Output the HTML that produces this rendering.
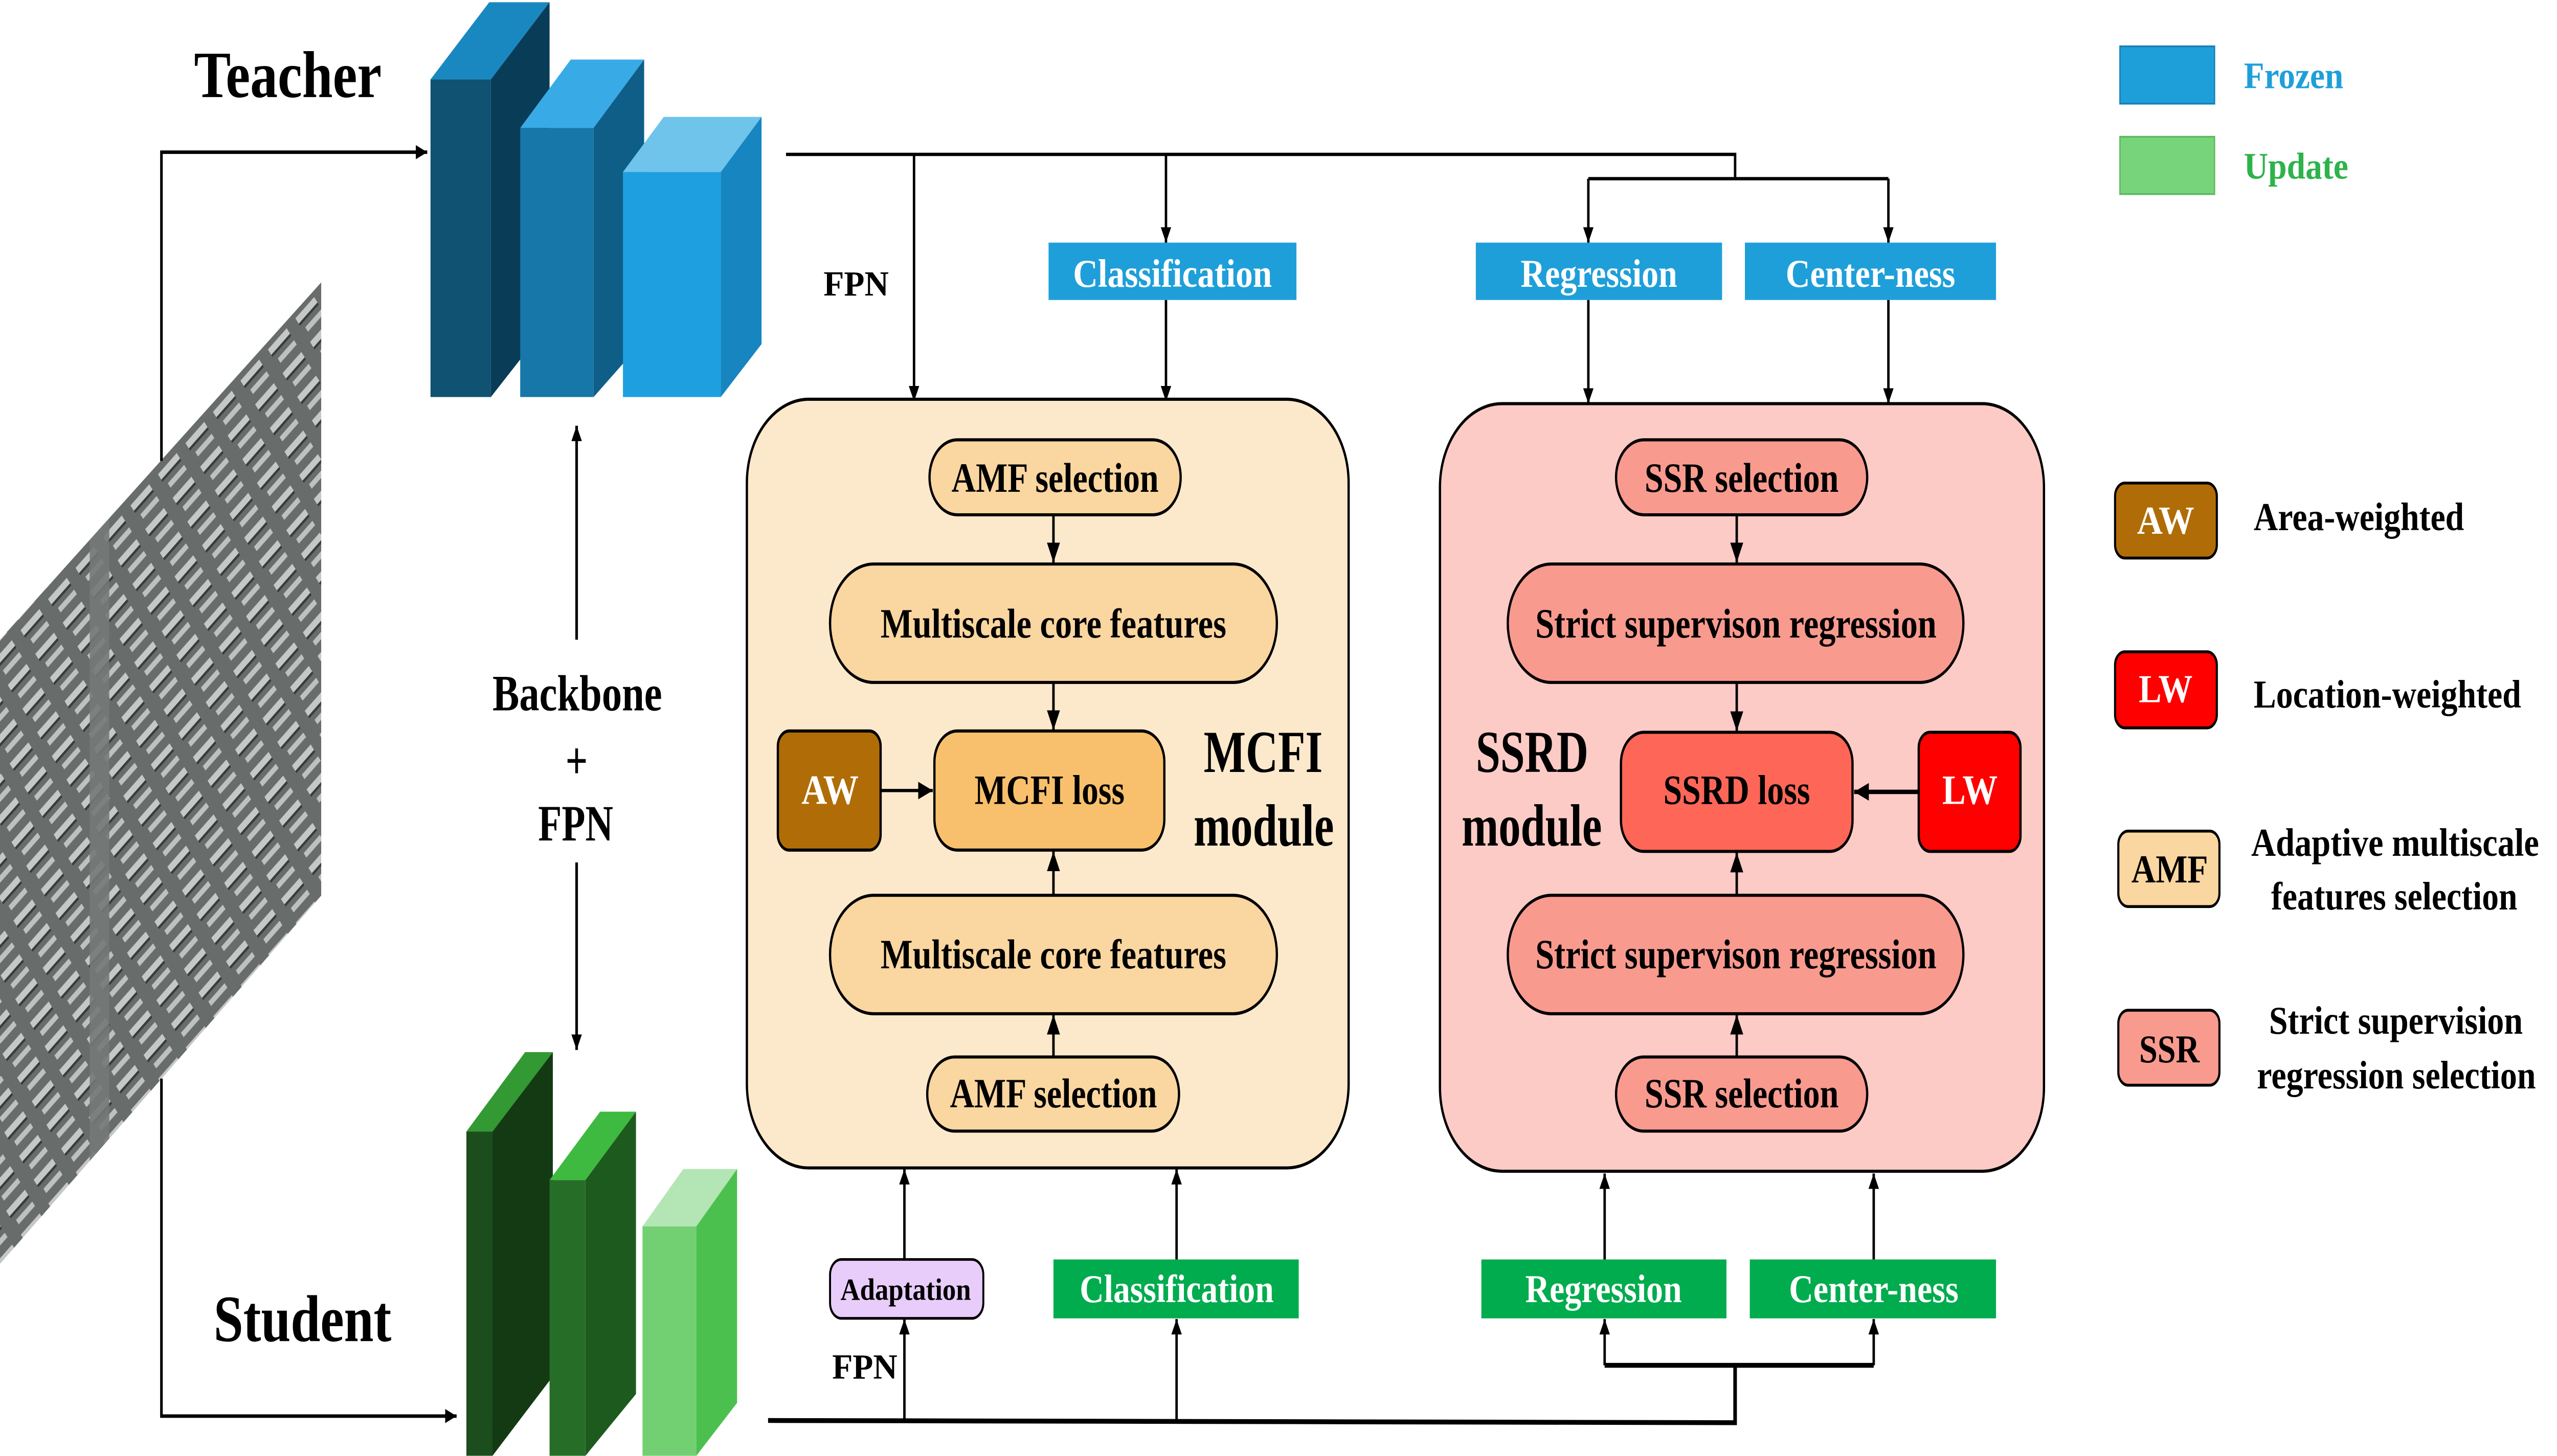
<!DOCTYPE html>
<html><head><meta charset="utf-8"><style>
html,body{margin:0;padding:0;background:#fff;width:100vw;height:100vh;overflow:hidden;}
svg{display:block;position:absolute;left:0;top:0;width:100vw;height:100vh;}
text{font-family:"Liberation Serif",serif;font-weight:bold;}
</style></head><body>
<svg viewBox="0 0 1568 660.1" preserveAspectRatio="none" xmlns="http://www.w3.org/2000/svg">
<defs>
<marker id="ar" markerWidth="8" markerHeight="8" refX="7" refY="4" orient="auto" markerUnits="userSpaceOnUse">
<path d="M0,0.8 L7,4 L0,7.2 Z" fill="#000"/></marker>
<marker id="ar2" markerWidth="10" markerHeight="10" refX="9" refY="5" orient="auto" markerUnits="userSpaceOnUse">
<path d="M0,1 L9,5 L0,9 Z" fill="#000"/></marker>
<pattern id="cars" width="22" height="14" patternUnits="userSpaceOnUse" patternTransform="rotate(-40)">
<rect x="0" y="0" width="22" height="14" fill="#6c726f"/>
<rect x="2" y="3" width="15" height="3.2" fill="#f2f2f2"/>
<rect x="2" y="6.2" width="15" height="1.2" fill="#2a2a2a"/>
<rect x="4" y="10" width="13" height="2.6" fill="#e8e8e8"/>
</pattern>
<clipPath id="imgclip"><polygon points="0,290 197,128 197,406 0,573"/></clipPath>
</defs>
<rect width="1568" height="660.1" fill="#fff"/>

<g clip-path="url(#imgclip)">
<rect x="0" y="120" width="200" height="460" fill="url(#cars)"/>
<rect x="55" y="120" width="12" height="460" fill="#7d8380" opacity="0.9"/>
<rect x="0" y="120" width="200" height="460" fill="#5f6562" opacity="0.3"/>
</g>

<g stroke="#000" stroke-width="1.6" fill="none">
<polyline points="99,209 99,69 262,69" marker-end="url(#ar)"/>
<polyline points="99,489 99,642 280,642" marker-end="url(#ar)"/>
<line x1="353.6" y1="290" x2="353.6" y2="193" marker-end="url(#ar)"/>
<line x1="353.6" y1="391" x2="353.6" y2="476" marker-end="url(#ar)"/>
</g>

<polygon points="264,36 301,36 337,1 300,1" fill="#1a88c0"/>
<polygon points="301,36 337,1 337,146 301,180" fill="#093c56"/>
<rect x="264" y="36" width="37" height="144" fill="#0f5272"/>
<polygon points="319,58 364,58 395,27 350,27" fill="#38abe6"/>
<polygon points="364,58 395,27 395,154 364,180" fill="#0f5e88"/>
<rect x="319" y="58" width="45" height="122" fill="#1677a8"/>
<polygon points="382,78 442,78 467,53 407,53" fill="#6fc4ec"/>
<polygon points="442,78 467,53 467,156 442,180" fill="#1785c0"/>
<rect x="382" y="78" width="60" height="102" fill="#1ea0e0"/>

<polygon points="286,513 302,513 339,477 322,477" fill="#339933"/>
<polygon points="302,513 339,477 339,624 302,660" fill="#143a14"/>
<rect x="286" y="513" width="16" height="147" fill="#1c4d1c"/>
<polygon points="337,535 359,535 390,504 368,504" fill="#3dba3f"/>
<polygon points="359,535 390,504 390,632 359,660" fill="#1d5a1e"/>
<rect x="337" y="535" width="22" height="125" fill="#266e28"/>
<polygon points="394,556 427,556 452,530 419,530" fill="#b3e6b4"/>
<polygon points="427,556 452,530 452,636 427,660" fill="#4cc04e"/>
<rect x="394" y="556" width="33" height="104" fill="#72d073"/>

<text x="119" y="44" font-size="30" textLength="115" lengthAdjust="spacingAndGlyphs">Teacher</text>
<text x="131" y="608" font-size="30" textLength="109" lengthAdjust="spacingAndGlyphs">Student</text>
<text x="302" y="322" font-size="23" textLength="104" lengthAdjust="spacingAndGlyphs">Backbone</text>
<text x="353.6" y="353" font-size="24" text-anchor="middle">+</text>
<text x="330" y="381" font-size="23" textLength="46" lengthAdjust="spacingAndGlyphs">FPN</text>

<g stroke="#000" stroke-width="1.5" fill="none">
<polyline points="482,70 1064,70 1064,81"/>
<line x1="974" y1="81" x2="1158" y2="81"/>
<line x1="974" y1="81" x2="974" y2="110" marker-end="url(#ar)"/>
<line x1="1158" y1="81" x2="1158" y2="110" marker-end="url(#ar)"/>
<line x1="560.5" y1="70" x2="560.5" y2="182" marker-end="url(#ar)"/>
<line x1="715" y1="70" x2="715" y2="110" marker-end="url(#ar)"/>
<line x1="715" y1="136" x2="715" y2="182" marker-end="url(#ar)"/>
<line x1="974" y1="136" x2="974" y2="183" marker-end="url(#ar)"/>
<line x1="1158" y1="136" x2="1158" y2="183" marker-end="url(#ar)"/>
</g>
<text x="505" y="134" font-size="16" textLength="40" lengthAdjust="spacingAndGlyphs">FPN</text>
<rect x="643" y="110" width="152" height="26" fill="#1f9fd9"/>
<text x="719" y="130" font-size="18" fill="#fff" text-anchor="middle" textLength="122" lengthAdjust="spacingAndGlyphs">Classification</text>
<rect x="905" y="110" width="151" height="26" fill="#1f9fd9"/>
<text x="980.5" y="130" font-size="18" fill="#fff" text-anchor="middle" textLength="96" lengthAdjust="spacingAndGlyphs">Regression</text>
<rect x="1070" y="110" width="154" height="26" fill="#1f9fd9"/>
<text x="1147" y="130" font-size="18" fill="#fff" text-anchor="middle" textLength="104" lengthAdjust="spacingAndGlyphs">Center-ness</text>

<rect x="458" y="181" width="369" height="348.5" rx="38" fill="#fce9cc" stroke="#000" stroke-width="1.4"/>
<g stroke="#000" stroke-width="1.4">
<rect x="570" y="199.4" width="154" height="34" rx="17" fill="#fad6a0"/>
<rect x="509" y="255.7" width="274" height="53.7" rx="26.8" fill="#fad6a0"/>
<rect x="573" y="331.4" width="141" height="54" rx="14" fill="#f8c06c"/>
<rect x="477" y="331.4" width="63" height="54" rx="7" fill="#b06d07"/>
<rect x="509" y="405.9" width="274" height="53.7" rx="26.8" fill="#fad6a0"/>
<rect x="568.6" y="479.2" width="154.4" height="33.6" rx="16.8" fill="#fad6a0"/>
</g>
<g stroke="#000" stroke-width="1.5">
<line x1="646" y1="233.4" x2="646" y2="255" marker-end="url(#ar2)"/>
<line x1="646" y1="309.4" x2="646" y2="331" marker-end="url(#ar2)"/>
<line x1="646" y1="405.9" x2="646" y2="386" marker-end="url(#ar2)"/>
<line x1="646" y1="479.2" x2="646" y2="460" marker-end="url(#ar2)"/>
<line x1="540" y1="358.4" x2="572" y2="358.4" marker-end="url(#ar2)"/>
</g>
<text x="647" y="223" font-size="19" text-anchor="middle" textLength="127" lengthAdjust="spacingAndGlyphs">AMF selection</text>
<text x="646" y="289" font-size="19" text-anchor="middle" textLength="212" lengthAdjust="spacingAndGlyphs">Multiscale core features</text>
<text x="643.6" y="364.5" font-size="19" text-anchor="middle" textLength="92" lengthAdjust="spacingAndGlyphs">MCFI loss</text>
<text x="509" y="364.5" font-size="19" fill="#fff" text-anchor="middle" textLength="35" lengthAdjust="spacingAndGlyphs">AW</text>
<text x="646" y="439" font-size="19" text-anchor="middle" textLength="212" lengthAdjust="spacingAndGlyphs">Multiscale core features</text>
<text x="646" y="502" font-size="19" text-anchor="middle" textLength="127" lengthAdjust="spacingAndGlyphs">AMF selection</text>
<text x="774.6" y="350" font-size="27" text-anchor="middle" textLength="73" lengthAdjust="spacingAndGlyphs">MCFI</text>
<text x="775" y="383.4" font-size="27" text-anchor="middle" textLength="86" lengthAdjust="spacingAndGlyphs">module</text>

<rect x="883" y="183" width="370.4" height="348" rx="38" fill="#fdcbc6" stroke="#000" stroke-width="1.4"/>
<g stroke="#000" stroke-width="1.4">
<rect x="991" y="199.4" width="154" height="34" rx="17" fill="#f99a8f"/>
<rect x="924.6" y="255.7" width="279.4" height="53.7" rx="26.8" fill="#f99a8f"/>
<rect x="994" y="332" width="142" height="54" rx="14" fill="#fe6757"/>
<rect x="1176.6" y="332" width="62.4" height="54" rx="7" fill="#fe0000"/>
<rect x="924.6" y="405.9" width="279.4" height="53.7" rx="26.8" fill="#f99a8f"/>
<rect x="991" y="479.2" width="154" height="33.6" rx="16.8" fill="#f99a8f"/>
</g>
<g stroke="#000" stroke-width="1.5">
<line x1="1065" y1="233.4" x2="1065" y2="255" marker-end="url(#ar2)"/>
<line x1="1065" y1="309.4" x2="1065" y2="331.5" marker-end="url(#ar2)"/>
<line x1="1065" y1="405.9" x2="1065" y2="386.5" marker-end="url(#ar2)"/>
<line x1="1065" y1="479.2" x2="1065" y2="460" marker-end="url(#ar2)"/>
<line x1="1176.6" y1="359" x2="1137" y2="359" stroke-width="2" marker-end="url(#ar2)"/>
</g>
<text x="1068" y="223" font-size="19" text-anchor="middle" textLength="119" lengthAdjust="spacingAndGlyphs">SSR selection</text>
<text x="1064.5" y="289" font-size="19" text-anchor="middle" textLength="246" lengthAdjust="spacingAndGlyphs">Strict supervison regression</text>
<text x="1065" y="364.5" font-size="19" text-anchor="middle" textLength="90" lengthAdjust="spacingAndGlyphs">SSRD loss</text>
<text x="1208" y="364.5" font-size="19" fill="#fff" text-anchor="middle" textLength="34" lengthAdjust="spacingAndGlyphs">LW</text>
<text x="1064.5" y="439" font-size="19" text-anchor="middle" textLength="246" lengthAdjust="spacingAndGlyphs">Strict supervison regression</text>
<text x="1068" y="502" font-size="19" text-anchor="middle" textLength="119" lengthAdjust="spacingAndGlyphs">SSR selection</text>
<text x="939.5" y="350" font-size="27" text-anchor="middle" textLength="69" lengthAdjust="spacingAndGlyphs">SSRD</text>
<text x="939.3" y="383.4" font-size="27" text-anchor="middle" textLength="86" lengthAdjust="spacingAndGlyphs">module</text>

<g stroke="#000" stroke-width="1.5" fill="none">
<polyline points="471,644 1064,645 1064,619" stroke-width="2.2"/>
<line x1="984" y1="619" x2="1149" y2="619" stroke-width="2.2"/>
<line x1="984" y1="619" x2="984" y2="598" marker-end="url(#ar)"/>
<line x1="1149" y1="619" x2="1149" y2="598" marker-end="url(#ar)"/>
<line x1="554.6" y1="644" x2="554.6" y2="598" marker-end="url(#ar)"/>
<line x1="554.6" y1="571" x2="554.6" y2="530" marker-end="url(#ar)"/>
<line x1="721.5" y1="644" x2="721.5" y2="598" marker-end="url(#ar)"/>
<line x1="721.5" y1="571" x2="721.5" y2="530" marker-end="url(#ar)"/>
<line x1="984" y1="571" x2="984" y2="532" marker-end="url(#ar)"/>
<line x1="1149" y1="571" x2="1149" y2="532" marker-end="url(#ar)"/>
</g>
<rect x="509" y="571" width="94" height="26.7" rx="7" fill="#e8ccfa" stroke="#000" stroke-width="1.2"/>
<text x="555.4" y="589.3" font-size="14" text-anchor="middle" textLength="80" lengthAdjust="spacingAndGlyphs">Adaptation</text>
<text x="510.3" y="625" font-size="16" textLength="40" lengthAdjust="spacingAndGlyphs">FPN</text>
<rect x="646" y="571" width="150.4" height="26.7" fill="#00ac4e"/>
<text x="721.6" y="590.3" font-size="18" fill="#fff" text-anchor="middle" textLength="119" lengthAdjust="spacingAndGlyphs">Classification</text>
<rect x="908.4" y="571" width="150.3" height="26.7" fill="#00ac4e"/>
<text x="983.3" y="590.3" font-size="18" fill="#fff" text-anchor="middle" textLength="96" lengthAdjust="spacingAndGlyphs">Regression</text>
<rect x="1073" y="571" width="151" height="26.7" fill="#00ac4e"/>
<text x="1149" y="590.3" font-size="18" fill="#fff" text-anchor="middle" textLength="104" lengthAdjust="spacingAndGlyphs">Center-ness</text>

<rect x="1300" y="21" width="58" height="26" fill="#1f9fd9" stroke="#1680b5" stroke-width="0.8"/>
<text x="1376" y="40" font-size="17" fill="#1f9fd9" textLength="61" lengthAdjust="spacingAndGlyphs">Frozen</text>
<rect x="1300" y="62" width="58" height="26" fill="#77d47a" stroke="#5cb85f" stroke-width="0.8"/>
<text x="1376" y="81" font-size="17" fill="#2db34a" textLength="64" lengthAdjust="spacingAndGlyphs">Update</text>

<g stroke="#000" stroke-width="1.3">
<rect x="1297" y="219" width="62.4" height="34" rx="6" fill="#b06d07"/>
<rect x="1297" y="295.5" width="62.4" height="34.5" rx="6" fill="#fe0000"/>
<rect x="1299" y="376.8" width="62" height="34.2" rx="6" fill="#fad6a0"/>
<rect x="1299" y="458" width="62" height="34" rx="6" fill="#f99a8f"/>
</g>
<text x="1328" y="242" font-size="18" fill="#fff" text-anchor="middle" textLength="35" lengthAdjust="spacingAndGlyphs">AW</text>
<text x="1328" y="318.4" font-size="18" fill="#fff" text-anchor="middle" textLength="33" lengthAdjust="spacingAndGlyphs">LW</text>
<text x="1330.5" y="400" font-size="18" text-anchor="middle" textLength="47" lengthAdjust="spacingAndGlyphs">AMF</text>
<text x="1330.3" y="481.6" font-size="18" text-anchor="middle" textLength="37" lengthAdjust="spacingAndGlyphs">SSR</text>
<text x="1382" y="240.3" font-size="18" textLength="129" lengthAdjust="spacingAndGlyphs">Area-weighted</text>
<text x="1382" y="320.8" font-size="18" textLength="164" lengthAdjust="spacingAndGlyphs">Location-weighted</text>
<text x="1380.5" y="388" font-size="18" textLength="176.5" lengthAdjust="spacingAndGlyphs">Adaptive multiscale</text>
<text x="1392.7" y="412.3" font-size="18" textLength="151" lengthAdjust="spacingAndGlyphs">features selection</text>
<text x="1391.4" y="468.6" font-size="18" textLength="155.6" lengthAdjust="spacingAndGlyphs">Strict supervision</text>
<text x="1384" y="493.4" font-size="18" textLength="171" lengthAdjust="spacingAndGlyphs">regression selection</text>
</svg>
</body></html>
